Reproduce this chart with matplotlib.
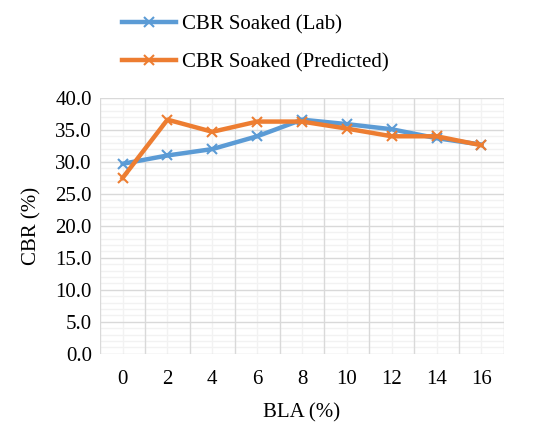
import matplotlib
matplotlib.use("Agg")
import matplotlib.pyplot as plt
import numpy as np

bla = [0, 2, 4, 6, 8, 10, 12, 14, 16]
cbr_lab = [29.7, 31.0, 32.0, 34.0, 36.6, 35.9, 35.1, 33.7, 32.7]
cbr_pred = [27.5, 36.6, 34.7, 36.3, 36.3, 35.2, 34.0, 34.0, 32.6]
labels = ["CBR Soaked (Lab)", "CBR Soaked (Predicted)"]

plt.rcParams['font.family'] = ['Liberation Serif', 'DejaVu Serif']
fs = 15

fig = plt.figure(figsize=(5.36, 4.45), dpi=100)
ax = fig.add_axes([0.187, 0.205, 0.753, 0.575])

x = np.arange(len(bla))
ax.plot(x, cbr_lab, color='#5B9BD5', lw=3.2, marker='x', ms=7, mew=1.5, label=labels[0], zorder=3)
ax.plot(x, cbr_pred, color='#ED7D31', lw=3.2, marker='x', ms=7, mew=1.5, label=labels[1], zorder=4)

ax.set_xlim(-0.5, len(bla) - 0.5)
ax.set_ylim(0, 40)
ax.set_xticks(x)
ax.set_xticklabels([str(b) for b in bla])
ax.set_xticks(np.arange(-0.5, len(bla), 1.0), minor=True)
ax.set_yticks(np.arange(0, 40.1, 5))
ax.set_yticklabels([f"{v:.1f}" for v in np.arange(0, 40.1, 5)])
ax.set_yticks(np.arange(0, 40.1, 1), minor=True)

ax.grid(False)
for yv in np.arange(0, 40.1, 1):
    if yv % 5 != 0:
        ax.axhline(yv, color='#F2F2F2', lw=1.0, zorder=0)
for xv in x:
    ax.axvline(xv, color='#F2F2F2', lw=1.0, zorder=0.5)
for yv in np.arange(0, 40.1, 5):
    ax.axhline(yv, color='#D9D9D9', lw=1.0, zorder=1)
for xv in np.arange(-0.5, len(bla), 1.0):
    ax.axvline(xv, color='#D9D9D9', lw=1.0, zorder=1)

for s in ax.spines.values():
    s.set_visible(False)
ax.tick_params(which='both', length=0, labelsize=fs)
ax.tick_params(axis='x', pad=12)
ax.tick_params(axis='y', pad=6)

ax.set_xlabel("BLA (%)", fontsize=fs, labelpad=10)
ax.set_ylabel("CBR (%)", fontsize=fs, labelpad=10)

fig.legend(loc='upper left', bbox_to_anchor=(0.2, 1.0), frameon=False, fontsize=fs,
           handlelength=2.6, handletextpad=0.3, labelspacing=0.9, borderaxespad=0.3)

fig.savefig("out.png", dpi=100)
